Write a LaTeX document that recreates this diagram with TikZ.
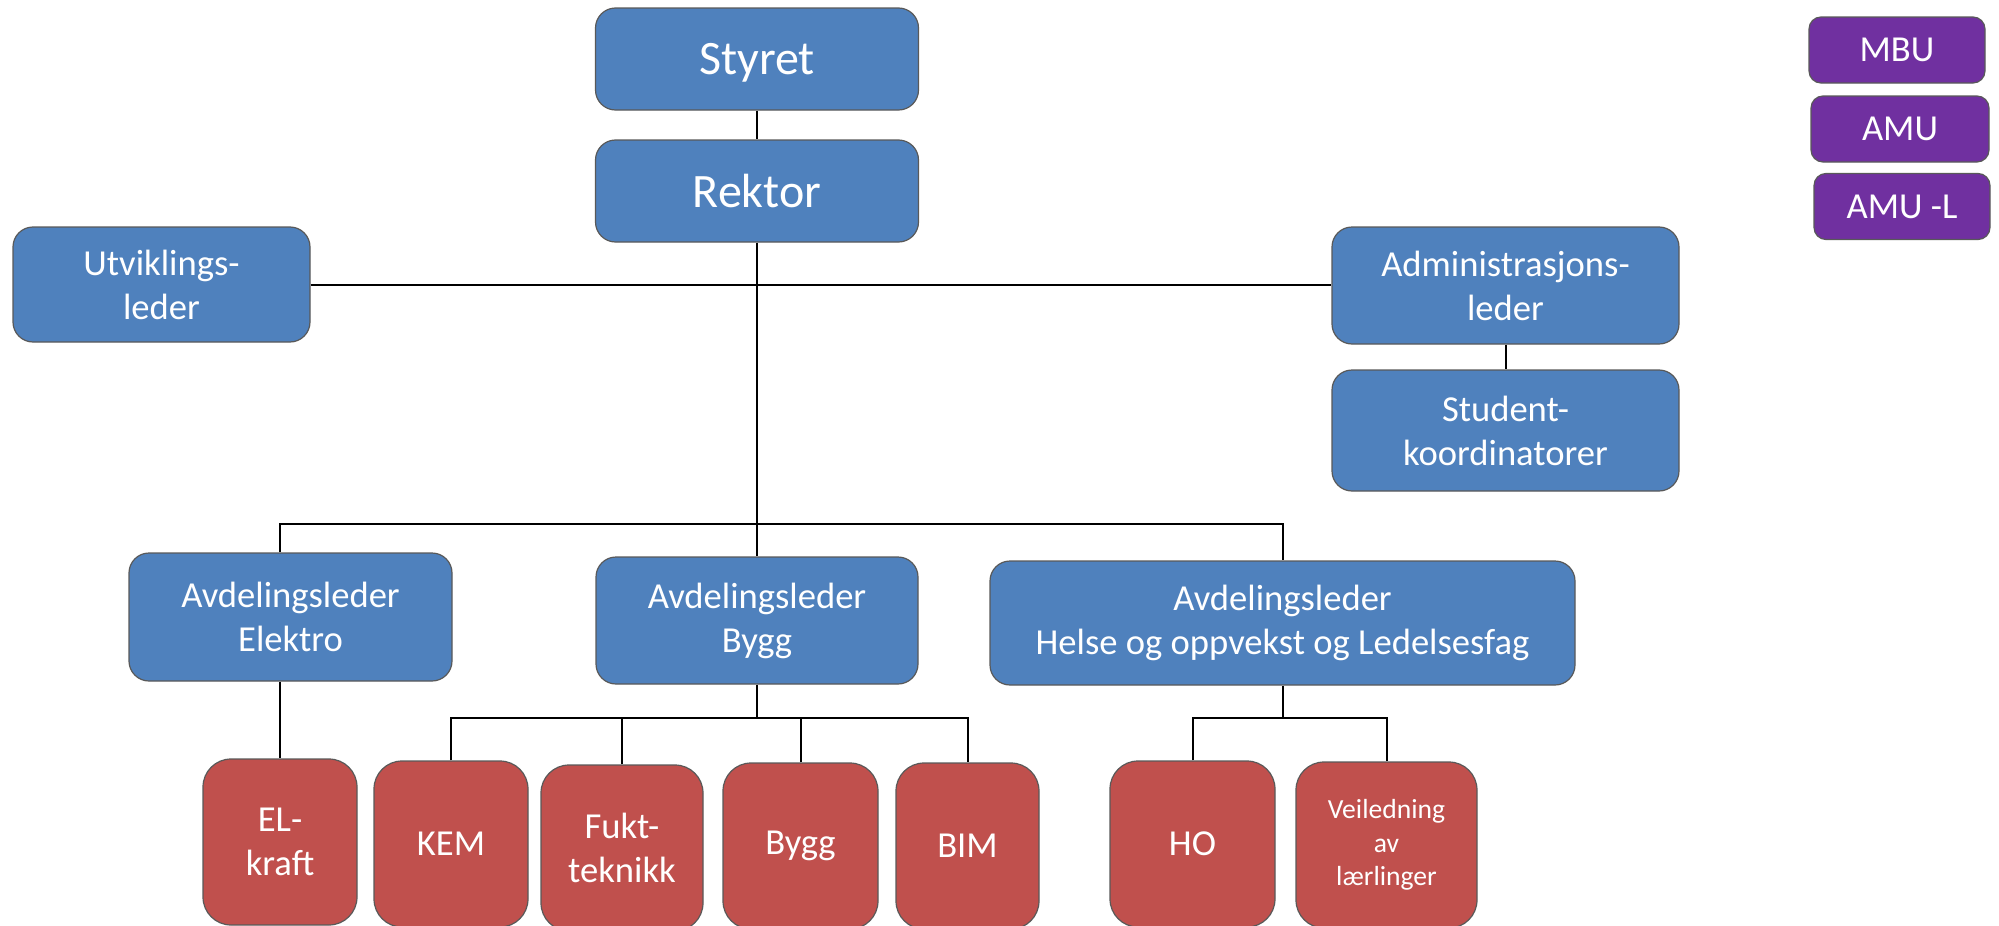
\documentclass[tikz,border=0pt]{standalone}
\usepackage{fontspec}
\setmainfont{Carlito}
\definecolor{lederblaa}{HTML}{4F81BD}
\definecolor{fagrod}{HTML}{C0504D}
\definecolor{utvalglilla}{HTML}{7030A0}

\begin{document}
\begin{tikzpicture}[x=0.5pt, y=-0.5pt,
  every node/.style={draw=black!65, line width=0.6pt, text=white, align=center, inner sep=0pt,
    font=\fontsize{18.3}{22}\selectfont},
  leder/.style={fill=lederblaa, rounded corners=10pt},
  fag/.style={fill=fagrod, rounded corners=14pt, minimum height=83pt},
  utvalg/.style={fill=utvalglilla, rounded corners=6pt, minimum height=33pt},
  stor/.style={font=\fontsize{24}{28}\selectfont, text depth=0pt},
  strek/.style={line width=1pt}]
  \useasboundingbox (0,0) rectangle (1999,926);
  % ledelse
  \node[leder, stor, minimum width=161.5pt, minimum height=51pt] (styret) at (757, 59) {Styret};
  \node[leder, stor, minimum width=161.5pt, minimum height=51pt] (rektor) at (757, 191) {Rektor};
  \node[leder, minimum width=148.5pt, minimum height=57.5pt] (utvikling) at (161.5, 284.5) {Utviklings-\\leder};
  \node[leder, minimum width=173.5pt, minimum height=58.5pt] (admin) at (1505.5, 285.5) {Administrasjons-\\leder};
  \node[leder, minimum width=173.5pt, minimum height=60.5pt] (student) at (1505.5, 430.5) {Student-\\koordinatorer};
  % avdelinger
  \node[leder, minimum width=161.5pt, minimum height=64pt] (elektro) at (290.5, 617) {Avdelingsleder\\Elektro};
  \node[leder, minimum width=161pt, minimum height=63.5pt] (bygg) at (757, 620.5) {Avdelingsleder\\Bygg};
  \node[leder, minimum width=292.5pt, minimum height=62pt] (helse) at (1282.5, 623) {Avdelingsleder\\Helse og oppvekst og Ledelsesfag};
  % fag
  \node[fag, minimum width=77pt] (elkraft) at (280, 842) {EL-\\kraft};
  \node[fag, minimum width=77pt] (kem) at (451, 844) {KEM};
  \node[fag, minimum width=81pt] (fukt) at (622, 848) {Fukt-\\teknikk};
  \node[fag, minimum width=77.5pt] (byggfag) at (800.5, 846) {Bygg};
  \node[fag, minimum width=71.5pt] (bim) at (967.5, 846) {BIM};
  \node[fag, minimum width=82.5pt] (ho) at (1192.5, 844) {HO};
  \node[fag, minimum width=90.5pt, font=\fontsize{13.8}{16.7}\selectfont] (veil) at (1386.5, 845) {Veiledning\\av\\lærlinger};
  % utvalg
  \node[utvalg, minimum width=88pt] (mbu) at (1897, 50) {MBU};
  \node[utvalg, minimum width=89pt] (amu) at (1900, 129) {AMU};
  \node[utvalg, minimum width=88pt] (amul) at (1902, 206.5) {AMU -L};
  % linjer
  \coordinate (avd) at (757, 524);
  \coordinate (byggbus) at (757, 718);
  \coordinate (helsebus) at (1282.5, 718);
  \draw[strek] (styret) -- (rektor);
  \draw[strek] (utvikling.east) -- (utvikling.east -| admin.west);
  \draw[strek] (admin) -- (student);
  \draw[strek] (rektor) -- (bygg);
  \draw[strek] (elektro.north -| elkraft.north) |- (avd) -| (helse.north);
  \draw[strek] (elektro.south -| elkraft.north) -- (elkraft.north);
  \draw[strek] (bygg) -- (byggbus);
  \draw[strek] (kem.north) |- (byggbus) -| (bim.north);
  \draw[strek] (fukt.north) -- (fukt.north |- byggbus);
  \draw[strek] (byggfag.north) -- (byggfag.north |- byggbus);
  \draw[strek] (helse) -- (helsebus);
  \draw[strek] (ho.north) |- (helsebus) -| (veil.north);
\end{tikzpicture}
\end{document}
